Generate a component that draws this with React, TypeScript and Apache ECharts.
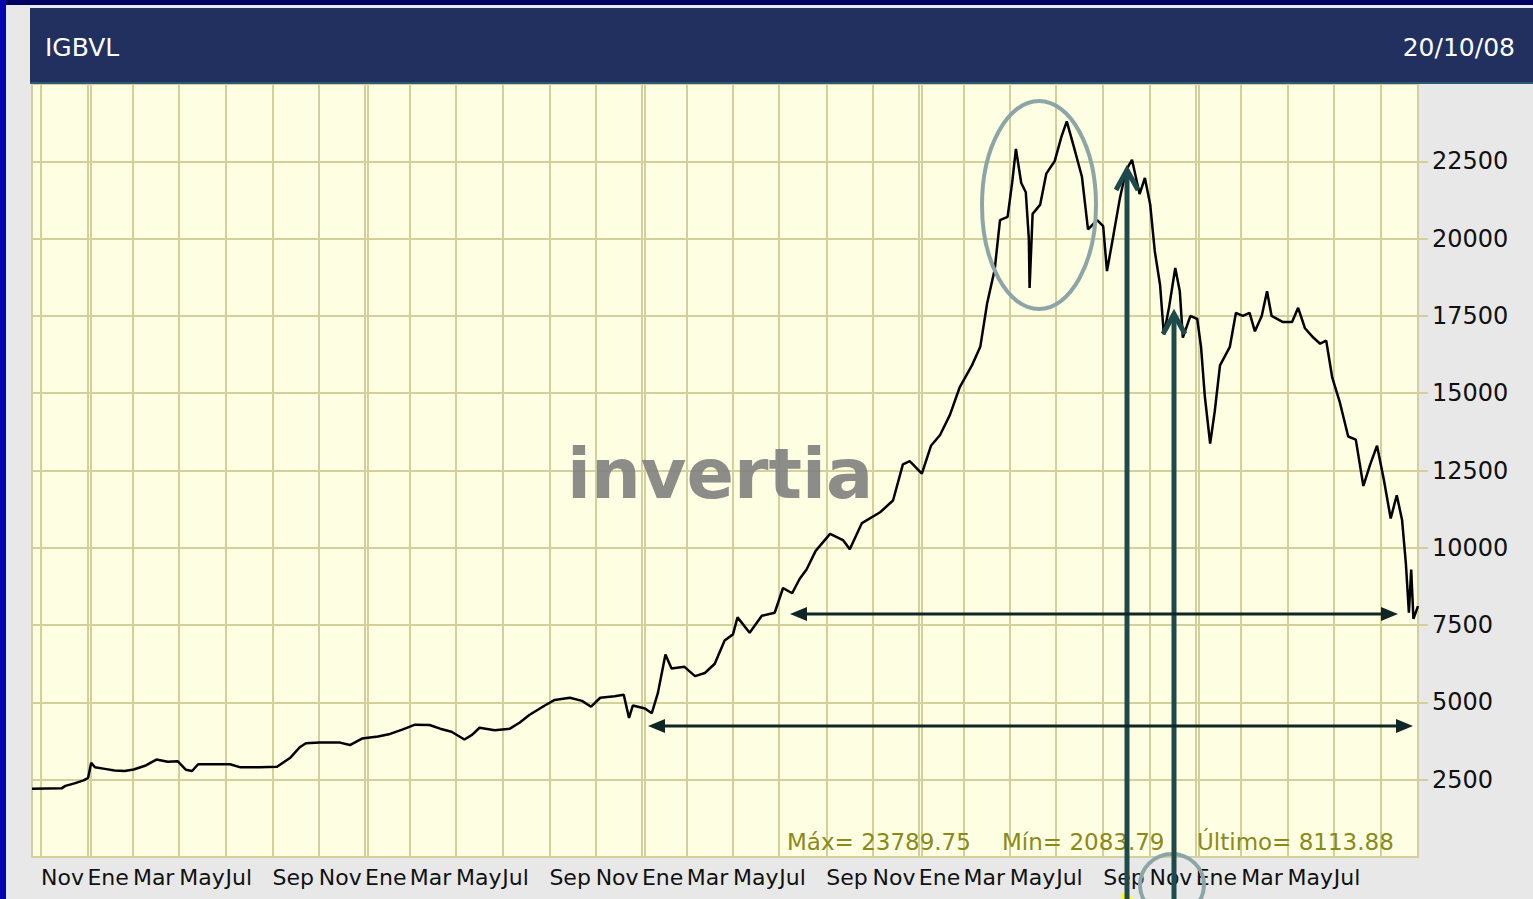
import React, { useEffect, useRef } from 'react';
import * as echarts from 'echarts';

// IGBVL closing values, 20/10/03 - 20/10/08
const dates = [
  '2003-10-20','2003-11-28','2003-12-03','2003-12-15','2003-12-27','2004-01-02','2004-01-06','2004-01-11','2004-01-24','2004-02-06',
  '2004-02-19','2004-03-02','2004-03-17','2004-04-01','2004-04-16','2004-04-29','2004-05-10','2004-05-18','2004-05-26','2004-06-17',
  '2004-07-07','2004-07-21','2004-08-15','2004-09-07','2004-09-24','2004-10-07','2004-10-15','2004-11-02','2004-11-29','2004-12-12',
  '2004-12-28','2005-01-18','2005-02-03','2005-02-19','2005-03-08','2005-03-27','2005-04-10','2005-04-25','2005-05-12','2005-05-22',
  '2005-06-01','2005-06-21','2005-07-11','2005-07-24','2005-08-06','2005-08-26','2005-09-08','2005-09-28','2005-10-14','2005-10-26',
  '2005-11-07','2005-11-26','2005-12-08','2005-12-15','2005-12-20','2006-01-05','2006-01-14','2006-01-22','2006-02-01','2006-02-09',
  '2006-02-26','2006-03-12','2006-03-25','2006-04-07','2006-04-20','2006-05-01','2006-05-07','2006-05-23','2006-06-08','2006-06-25',
  '2006-07-06','2006-07-18','2006-07-28','2006-08-06','2006-08-18','2006-09-06','2006-09-23','2006-10-02','2006-10-18','2006-11-11',
  '2006-11-28','2006-12-11','2006-12-20','2007-01-05','2007-01-17','2007-01-29','2007-02-11','2007-02-24','2007-03-12','2007-03-23',
  '2007-04-01','2007-04-11','2007-04-18','2007-04-28','2007-05-04','2007-05-09','2007-05-16','2007-05-22','2007-05-26','2007-05-27',
  '2007-05-31','2007-06-10','2007-06-18','2007-06-29','2007-07-08','2007-07-15','2007-07-24','2007-08-04','2007-08-12','2007-08-24',
  '2007-09-01','2007-09-06','2007-09-13','2007-09-23','2007-10-01','2007-10-09','2007-10-19','2007-10-26','2007-11-02','2007-11-08',
  '2007-11-15','2007-11-20','2007-11-27','2007-12-05','2007-12-11','2007-12-15','2007-12-25','2008-01-03','2008-01-08','2008-01-13',
  '2008-01-20','2008-01-26','2008-02-02','2008-02-15','2008-02-23','2008-03-03','2008-03-12','2008-03-19','2008-03-28','2008-04-04',
  '2008-04-10','2008-04-25','2008-05-07','2008-05-15','2008-05-24','2008-06-04','2008-06-13','2008-06-21','2008-06-29','2008-07-09',
  '2008-07-20','2008-07-30','2008-08-09','2008-08-18','2008-08-27','2008-09-05','2008-09-14','2008-09-22','2008-09-29','2008-10-04',
  '2008-10-08','2008-10-11','2008-10-14','2008-10-20',
];
const values = [
  2210, 2220, 2300, 2380, 2480, 2560, 3050, 2900, 2850, 2800,
  2780, 2830, 2950, 3150, 3080, 3100, 2820, 2780, 3000, 3000,
  3000, 2900, 2900, 2920, 3200, 3550, 3680, 3700, 3700, 3620,
  3830, 3900, 3980, 4120, 4280, 4270, 4150, 4050, 3800, 3950,
  4180, 4100, 4150, 4350, 4600, 4900, 5080, 5150, 5050, 4860,
  5150, 5200, 5250, 4500, 4900, 4800, 4650, 5300, 6550, 6100,
  6150, 5850, 5950, 6250, 7000, 7200, 7750, 7250, 7800, 7900,
  8700, 8530, 9000, 9300, 9900, 10450, 10250, 9950, 10800, 11150,
  11530, 12700, 12800, 12400, 13300, 13650, 14300, 15200, 15900, 16500,
  17900, 19000, 20600, 20700, 21800, 22900, 21800, 21500, 20000, 18400,
  20800, 21100, 22100, 22500, 23300, 23790, 23000, 22000, 20300, 20600,
  20400, 18950, 19900, 21300, 22200, 22550, 21440, 21960, 21100, 19600,
  18500, 16900, 17800, 19050, 18300, 16800, 17500, 17400, 16500, 14900,
  13370, 14400, 15900, 16500, 17600, 17500, 17600, 17000, 17500, 18300,
  17500, 17300, 17300, 17760, 17100, 16800, 16600, 16700, 15500, 14700,
  13600, 13500, 12000, 12700, 13300, 12200, 10950, 11700, 10900, 9500,
  7900, 9300, 7700, 8114,
];

const startDate = '2003-10-20';
const endDate = '2008-10-20';

// month tick labels (every two months)
const xLabelDates = [
  '2003-11-01',
  '2004-01-01','2004-03-01','2004-05-01','2004-07-01','2004-09-01','2004-11-01',
  '2005-01-01','2005-03-01','2005-05-01','2005-07-01','2005-09-01','2005-11-01',
  '2006-01-01','2006-03-01','2006-05-01','2006-07-01','2006-09-01','2006-11-01',
  '2007-01-01','2007-03-01','2007-05-01','2007-07-01','2007-09-01','2007-11-01',
  '2008-01-01','2008-03-01','2008-05-01','2008-07-01',
];
const xExtraGridDates = ['2008-09-01','2004-01-05','2005-01-05','2006-01-05','2007-01-05','2008-01-05'];
const monthAbbr = ['Ene','Feb','Mar','Abr','May','Jun','Jul','Ago','Sep','Oct','Nov','Dic'];

const yMin = 0;
const yMax = 25000;
const yInterval = 2500;

const titleText = 'IGBVL';
const dateText = '20/10/08';
const maxText = 'Máx= 23789.75';
const minText = 'Mín= 2083.79';
const lastText = 'Último= 8113.88';
const watermark = 'invertia';

function ts(s: string): number {
  const [y, m, d] = s.split('-').map(Number);
  return new Date(y, m - 1, d).getTime();
}

const GRID = '#d3d09c';
const FONT = 'DejaVu Sans';

export default function App() {
  const ref = useRef<HTMLDivElement>(null);

  useEffect(() => {
    if (!ref.current) return;
    const chart = echarts.init(ref.current, undefined, { renderer: 'svg' });
    const data = dates.map((d, i) => [ts(d), values[i]]);
    const labelTicks = xLabelDates.map(ts);
    const gridTicks = xLabelDates.concat(xExtraGridDates).map(ts).sort((a, b) => a - b);

    const arrowColor = '#1e4a4c';
    const hArrowColor = '#102626';
    const ringColor = '#8ca6a8';

    const option: any = {
      animation: false,
      backgroundColor: '#e8e8e8',
      grid: {
        left: 32, right: 115, top: 84, bottom: 42,
        show: true, backgroundColor: '#fefee2', borderColor: GRID, borderWidth: 2,
        outerBoundsMode: 'none',
      },
      xAxis: {
        type: 'value',
        min: ts(startDate),
        max: ts(endDate),
        axisLine: { show: false },
        axisTick: { show: false, customValues: gridTicks },
        splitLine: { show: true, lineStyle: { color: GRID, width: 2 } },
        axisLabel: {
          customValues: labelTicks,
          formatter: (v: number) => monthAbbr[new Date(v).getMonth()],
          align: 'left',
          color: '#111',
          fontFamily: FONT,
          fontSize: 22,
          margin: 9,
          hideOverlap: false,
          showMinLabel: true,
          showMaxLabel: true,
        },
      },
      yAxis: {
        type: 'value',
        position: 'right',
        min: yMin, max: yMax, interval: yInterval,
        axisLine: { show: false },
        axisTick: { show: true, length: 10, lineStyle: { color: GRID, width: 2 } },
        splitLine: { show: true, lineStyle: { color: GRID, width: 2 } },
        axisLabel: {
          align: 'left', margin: 14, color: '#111', fontFamily: FONT, fontSize: 24,
          showMinLabel: false, showMaxLabel: false,
          formatter: (v: number) => String(v),
        },
      },
      series: [
        {
          type: 'line',
          data,
          showSymbol: false,
          symbol: 'none',
          lineStyle: { color: '#000', width: 2.5 },
          z: 3,
        },
      ],
      graphic: [
        { type: 'rect', shape: { x: 0, y: 0, width: 1533, height: 5 }, style: { fill: '#000060' }, z: 50 },
        { type: 'rect', shape: { x: 0, y: 0, width: 6, height: 899 }, style: { fill: '#0505b0' }, z: 50 },
        { type: 'rect', shape: { x: 30, y: 8, width: 1503, height: 75 }, style: { fill: '#22305f' }, z: 50 },
        { type: 'rect', shape: { x: 30, y: 82, width: 1503, height: 2 }, style: { fill: '#2c5a74' }, z: 50 },
        {
          type: 'text', x: 45, y: 47, z: 51,
          style: { text: titleText, fill: '#ffffff', fontFamily: FONT, fontSize: 25,
            align: 'left', verticalAlign: 'middle', textAlign: 'left', textVerticalAlign: 'middle' },
        },
        {
          type: 'text', x: 1515, y: 47, z: 51,
          style: { text: dateText, fill: '#ffffff', fontFamily: FONT, fontSize: 25,
            align: 'right', verticalAlign: 'middle', textAlign: 'right', textVerticalAlign: 'middle' },
        },
        {
          type: 'text', x: 567, y: 474, z: 1,
          style: { text: watermark, fill: 'rgba(128,128,128,0.9)', fontFamily: FONT, fontWeight: 'bold', fontSize: 70,
            align: 'left', verticalAlign: 'middle', textAlign: 'left', textVerticalAlign: 'middle' },
        },
        {
          type: 'text', x: 787, y: 842, z: 10,
          style: { text: maxText, fill: '#8a8a18', fontFamily: FONT, fontSize: 23,
            align: 'left', verticalAlign: 'middle', textAlign: 'left', textVerticalAlign: 'middle' },
        },
        {
          type: 'text', x: 1002, y: 842, z: 10,
          style: { text: minText, fill: '#8a8a18', fontFamily: FONT, fontSize: 23,
            align: 'left', verticalAlign: 'middle', textAlign: 'left', textVerticalAlign: 'middle' },
        },
        {
          type: 'text', x: 1197, y: 842, z: 10,
          style: { text: lastText, fill: '#8a8a18', fontFamily: FONT, fontSize: 23,
            align: 'left', verticalAlign: 'middle', textAlign: 'left', textVerticalAlign: 'middle' },
        },
        { type: 'ellipse', shape: { cx: 1039, cy: 205, rx: 57, ry: 104 }, style: { fill: 'none', stroke: ringColor, lineWidth: 4 }, z: 100 },
        { type: 'ellipse', shape: { cx: 1172, cy: 885, rx: 32, ry: 31 }, style: { fill: 'none', stroke: ringColor, lineWidth: 4 }, z: 100 },
        { type: 'line', shape: { x1: 1127, y1: 899, x2: 1127, y2: 173 }, style: { stroke: arrowColor, lineWidth: 5 }, z: 100 },
        { type: 'polyline', shape: { points: [[1116, 190], [1127, 170], [1138, 190]] }, style: { stroke: arrowColor, lineWidth: 5, fill: 'none' }, z: 100 },
        { type: 'line', shape: { x1: 1174, y1: 899, x2: 1174, y2: 317 }, style: { stroke: arrowColor, lineWidth: 5 }, z: 100 },
        { type: 'polyline', shape: { points: [[1163, 334], [1174, 314], [1185, 334]] }, style: { stroke: arrowColor, lineWidth: 5, fill: 'none' }, z: 100 },
        { type: 'line', shape: { x1: 800, y1: 614, x2: 1388, y2: 614 }, style: { stroke: hArrowColor, lineWidth: 3 }, z: 100 },
        { type: 'polygon', shape: { points: [[790, 614], [807, 607], [807, 621]] }, style: { fill: hArrowColor }, z: 100 },
        { type: 'polygon', shape: { points: [[1398, 614], [1381, 607], [1381, 621]] }, style: { fill: hArrowColor }, z: 100 },
        { type: 'line', shape: { x1: 658, y1: 726, x2: 1403, y2: 726 }, style: { stroke: hArrowColor, lineWidth: 3 }, z: 100 },
        { type: 'polygon', shape: { points: [[648, 726], [665, 719], [665, 733]] }, style: { fill: hArrowColor }, z: 100 },
        { type: 'polygon', shape: { points: [[1413, 726], [1396, 719], [1396, 733]] }, style: { fill: hArrowColor }, z: 100 },
        { type: 'polygon', shape: { points: [[1121, 892], [1134, 899], [1121, 899]] }, style: { fill: '#ffff00' }, z: 99 },
      ],
    };

    chart.setOption(option);
    return () => chart.dispose();
  }, []);

  return (
    <div
      ref={ref}
      style={{ position: 'absolute', left: 0, top: 0, width: 1533, height: 899 }}
    />
  );
}
